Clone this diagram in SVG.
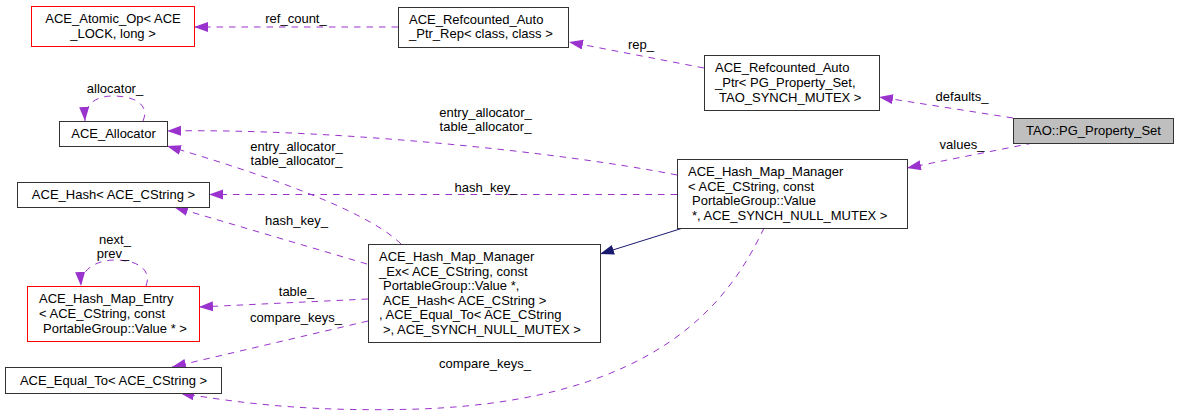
<svg xmlns="http://www.w3.org/2000/svg" width="1179" height="415" viewBox="0 0 1179 415">
<style>
text{font-family:"Liberation Sans",Arial,sans-serif;font-size:13px;fill:#000}
.c{text-anchor:middle}
.box{fill:#fff;stroke:#333;stroke-width:1}
.red{fill:#fff;stroke:#ff0000;stroke-width:1}
.gray{fill:#bfbfbf;stroke:#333;stroke-width:1}
.e{fill:none;stroke:#9a32cd;stroke-width:1;stroke-dasharray:6.5,6;marker-end:url(#ap)}
.inh{fill:none;stroke:#191970;stroke-width:1;marker-end:url(#an)}
</style>
<defs>
<marker id="ap" markerUnits="userSpaceOnUse" markerWidth="15" markerHeight="11" refX="14" refY="5" orient="auto"><path d="M0,0 L14,5 L0,10 z" fill="#9a32cd" stroke="none"/></marker>
<marker id="an" markerUnits="userSpaceOnUse" markerWidth="15" markerHeight="11" refX="14" refY="5" orient="auto"><path d="M0,0 L14,5 L0,10 z" fill="#191970" stroke="none"/></marker>
</defs>
<rect width="1179" height="415" fill="#fff"/>
<g id="edges">
<path class="e" d="M398,27 L194,27"/>
<path class="e" d="M704,68 L569,42"/>
<path class="e" d="M1013,118 L879,97"/>
<path class="e" d="M1033,143 L907,168"/>
<path class="e" d="M677,175 C560,152 330,128 167,131"/>
<path class="e" d="M677,194.5 L209,194.5"/>
<path class="inh" d="M683,228 L600,254"/>
<path class="e" d="M764,228 C730,300 660,400 420,409 C320,412 250,405 180,393"/>
<path class="e" d="M401,244 C375,218 300,185 167,146"/>
<path class="e" d="M367,264 L174,207"/>
<path class="e" d="M368,299 L199,307"/>
<path class="e" d="M368,321 L172,367"/>
<path class="e" d="M143,121 C150,105 135,96 113,96 C96,96 84,104 85,121"/>
<path class="e" d="M146,286 C152,270 138,260 115,260 C96,260 80,270 81,286"/>
<text class="c" x="296" y="22.5">ref_count_</text>
<text class="c" x="641" y="48.5">rep_</text>
<text class="c" x="962" y="100.5">defaults_</text>
<text class="c" x="962" y="148.5">values_</text>
<text class="c" x="115" y="92.5">allocator_</text>
<text class="c" x="485.5" y="116.5">entry_allocator_</text>
<text class="c" x="485.5" y="131">table_allocator_</text>
<text class="c" x="296.5" y="150.5">entry_allocator_</text>
<text class="c" x="296.5" y="164.5">table_allocator_</text>
<text class="c" x="486" y="191.5">hash_key_</text>
<text class="c" x="296.5" y="224.5">hash_key_</text>
<text class="c" x="115" y="243.5">next_</text>
<text class="c" x="113" y="257.5">prev_</text>
<text class="c" x="296.5" y="295.5">table_</text>
<text class="c" x="296" y="321.5">compare_keys_</text>
<text class="c" x="485" y="367.5">compare_keys_</text>
</g>
<g id="atomic_op">
<rect class="red" x="31.5" y="6.5" width="163" height="40"/>
<text class="c" x="113" y="23">ACE_Atomic_Op&lt; ACE</text>
<text class="c" x="113" y="37.6">_LOCK, long &gt;</text>
</g>
<g id="refcounted_rep">
<rect class="box" x="398.5" y="7.5" width="170" height="40"/>
<text x="409" y="23.5">ACE_Refcounted_Auto</text>
<text x="409" y="38">_Ptr_Rep&lt; class, class &gt;</text>
</g>
<g id="refcounted_ptr">
<rect class="box" x="704.5" y="55.5" width="175" height="55"/>
<text x="715" y="72.4">ACE_Refcounted_Auto</text>
<text x="715" y="87">_Ptr&lt; PG_Property_Set,</text>
<text x="719" y="101.6">TAO_SYNCH_MUTEX &gt;</text>
</g>
<g id="pg_property_set">
<rect class="gray" x="1013.5" y="118.5" width="160" height="25"/>
<text class="c" x="1093.5" y="135">TAO::PG_Property_Set</text>
</g>
<g id="allocator">
<rect class="box" x="59.5" y="121.5" width="108" height="25"/>
<text class="c" x="113.5" y="138">ACE_Allocator</text>
</g>
<g id="hash">
<rect class="box" x="17.5" y="182.5" width="192" height="25"/>
<text class="c" x="113.5" y="199">ACE_Hash&lt; ACE_CString &gt;</text>
</g>
<g id="hash_map_manager">
<rect class="box" x="677.5" y="159.5" width="230" height="69"/>
<text x="688" y="176.1">ACE_Hash_Map_Manager</text>
<text x="688" y="190.7">&lt; ACE_CString, const</text>
<text x="692" y="205.3">PortableGroup::Value</text>
<text x="692" y="219.9">*, ACE_SYNCH_NULL_MUTEX &gt;</text>
</g>
<g id="hash_map_manager_ex">
<rect class="box" x="368.5" y="244.5" width="232" height="98"/>
<text x="379" y="261">ACE_Hash_Map_Manager</text>
<text x="379" y="275.6">_Ex&lt; ACE_CString, const</text>
<text x="383" y="290.2">PortableGroup::Value *,</text>
<text x="383" y="304.8">ACE_Hash&lt; ACE_CString &gt;</text>
<text x="379" y="319.4">, ACE_Equal_To&lt; ACE_CString</text>
<text x="383" y="334">&gt;, ACE_SYNCH_NULL_MUTEX &gt;</text>
</g>
<g id="hash_map_entry">
<rect class="red" x="27.5" y="286.5" width="172" height="55"/>
<text x="39" y="303.4">ACE_Hash_Map_Entry</text>
<text x="39" y="318">&lt; ACE_CString, const</text>
<text x="43" y="332.6">PortableGroup::Value * &gt;</text>
</g>
<g id="equal_to">
<rect class="box" x="5.5" y="367.5" width="216" height="26"/>
<text class="c" x="113.5" y="385">ACE_Equal_To&lt; ACE_CString &gt;</text>
</g>
</svg>
